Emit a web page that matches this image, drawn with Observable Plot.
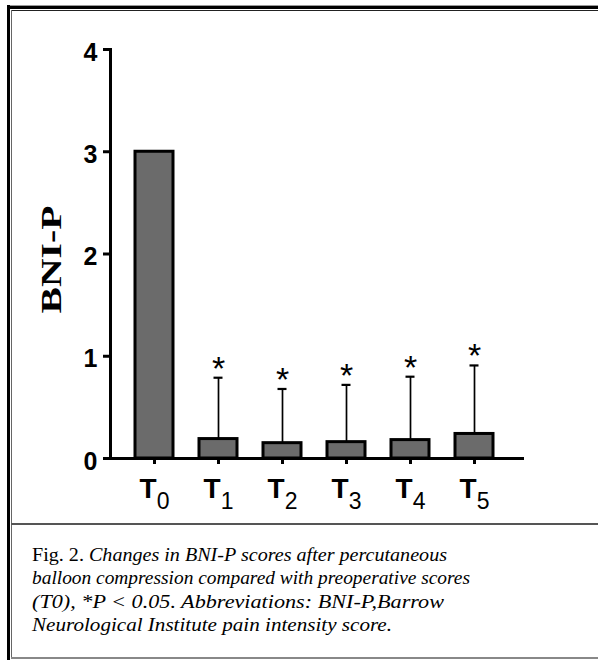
<!DOCTYPE html>
<html>
<head>
<meta charset="utf-8">
<script src="https://cdn.jsdelivr.net/npm/d3@7"></script>
<script src="https://cdn.jsdelivr.net/npm/@observablehq/plot@0.6"></script>
<style>
  html, body { margin: 0; padding: 0; background: #fff; }
  #page { position: relative; width: 598px; height: 660px; overflow: hidden; background: #fff; }
  #chart { position: absolute; left: 0; top: 0; }
  .ln { position: absolute; z-index: 5; }
  #caption {
    position: absolute; left: 32px; top: 543px; width: 560px;
    font-family: "Liberation Serif", "Times New Roman", serif;
    font-size: 19.5px; line-height: 23.3px; color: #000; z-index: 6;
    white-space: nowrap;
  }
  #caption .line { display: block; transform-origin: 0 50%; width: max-content; }
</style>
</head>
<body>
<div id="page">
  <div id="chart"></div>
  <!-- frame lines -->
  <div class="ln" style="left:7px;top:5px;right:0;height:1px;background:#999"></div>
  <div class="ln" style="left:7px;top:6px;right:0;height:3px;background:#000"></div>
  <div class="ln" style="left:7px;top:5px;width:3px;bottom:0;background:#000"></div>
  <div class="ln" style="left:11px;top:10px;right:0;height:1px;background:#222"></div>
  <div class="ln" style="left:11px;top:10px;width:1px;height:648px;background:#666"></div>
  <div class="ln" style="left:11px;top:523px;right:0;height:2px;background:#555"></div>
  <div class="ln" style="left:11px;top:657px;right:0;height:2px;background:#888"></div>
  <div id="caption">
    <span class="line" data-w="415">Fig. 2. <i>Changes in BNI-P scores after percutaneous</i></span>
    <span class="line" data-w="438"><i>balloon compression compared with preoperative scores</i></span>
    <span class="line" data-w="412"><i>(T0), *P &lt; 0.05. Abbreviations: BNI-P,Barrow</i></span>
    <span class="line" data-w="360"><i>Neurological Institute pain intensity score.</i></span>
  </div>
</div>
<script>
const categories = ["T0", "T1", "T2", "T3", "T4", "T5"];
const means      = [3.0, 0.19, 0.15, 0.16, 0.18, 0.24];
const errUpper   = [null, 0.79, 0.68, 0.72, 0.80, 0.91];
const sigMarks   = ["", "*", "*", "*", "*", "*"];
const yTicks     = [0, 1, 2, 3, 4];
const yLabel     = "BNI-P";

const data = categories.map((t, i) => ({t, mean: means[i], upper: errUpper[i], star: sigMarks[i]}));
const errData = data.filter(d => d.upper != null);

const chart = Plot.plot({
  width: 598,
  height: 522,
  marginLeft: 110,
  marginRight: 76,
  marginTop: 49,
  marginBottom: 64,
  style: {fontFamily: "'Liberation Sans', Arial, sans-serif", color: "black", background: "white"},
  x: {type: "band", domain: categories, range: [114.2, 514.7], paddingInner: 0.4, paddingOuter: 0.3, axis: null},
  y: {domain: [0, 4], axis: null},
  marks: [
    Plot.ruleX(errData, {x: "t", y1: "mean", y2: "upper", stroke: "black", strokeWidth: 1.7}),
    Plot.tickY(errData, {x: "t", y: "upper", stroke: "black", strokeWidth: 2.2, insetLeft: 14.5, insetRight: 14.5}),
    Plot.barY(data, {x: "t", y: "mean", fill: "#6b6b6b", stroke: "black", strokeWidth: 3}),
    Plot.text(errData, {x: "t", y: "upper", text: "star", lineAnchor: "bottom", dy: 2, fontSize: 34, fill: "black"}),
    Plot.frame({anchor: "left", strokeWidth: 3, strokeLinecap: "square"}),
    Plot.frame({anchor: "bottom", strokeWidth: 3, strokeLinecap: "square"}),
    Plot.axisY({ticks: yTicks, tickSize: 7, strokeWidth: 3, tickFormat: () => "", label: null}),
    Plot.axisY({ticks: yTicks, tickSize: 0, tickPadding: 13, dy: 3, fontSize: 25, fontWeight: "bold", tickFormat: d => String(d), label: null}),
    Plot.axisX({tickSize: 6, strokeWidth: 3, tickFormat: () => "", label: null}),
    Plot.axisX({tickSize: 0, tickPadding: 20, fontSize: 28, fontWeight: "bold", label: null}),
    Plot.text([yLabel], {frameAnchor: "left", text: d => d, rotate: -90, dx: -50, dy: 5.5, lineAnchor: "bottom", textAnchor: "middle",
      fontFamily: "'Liberation Serif', 'Times New Roman', serif", fontWeight: "bold", fontSize: 30, fill: "black"})
  ]
});

document.getElementById("chart").appendChild(chart);

// subscript digits in x tick labels
d3.select(chart).selectAll("text").filter(function() { return categories.includes(this.textContent); }).each(function() {
  const s = this.textContent;
  this.textContent = "";
  const sel = d3.select(this);
  sel.append("tspan").text(s.slice(0, 1));
  sel.append("tspan").attr("font-size", 23).attr("font-weight", "normal").attr("dy", 11).text(s.slice(1));
});

// stretch the y label to match
d3.select(chart).selectAll("text").filter(function() { return this.textContent === yLabel; })
  .attr("textLength", 108).attr("lengthAdjust", "spacingAndGlyphs");

// fit caption lines to the reference widths
document.querySelectorAll("#caption .line").forEach(el => {
  const w = el.getBoundingClientRect().width;
  const target = +el.dataset.w;
  if (w > 0) el.style.transform = `scaleX(${target / w})`;
});
</script>
</body>
</html>
